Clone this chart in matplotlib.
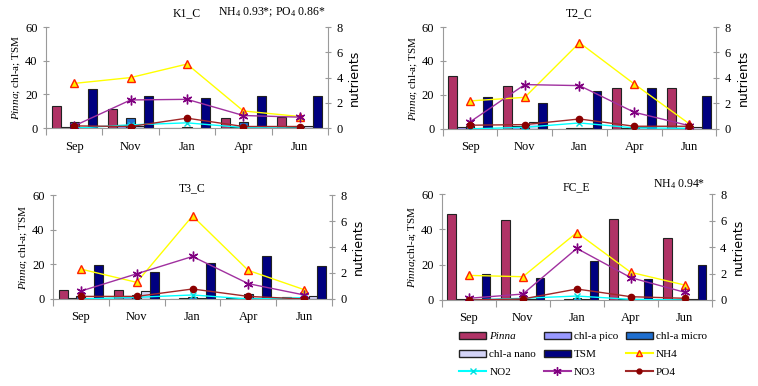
import matplotlib
matplotlib.use("Agg")
import matplotlib.pyplot as plt
from matplotlib.patches import Patch
from matplotlib.lines import Line2D
import numpy as np

plt.rcParams['font.family'] = ['Liberation Serif', 'DejaVu Serif']
plt.rcParams['mathtext.fontset'] = 'custom'
plt.rcParams['mathtext.rm'] = 'Liberation Serif'
plt.rcParams['mathtext.it'] = 'Liberation Serif:italic'

months = ['Sep', 'Nov', 'Jan', 'Apr', 'Jun']
sites = ['K1_C', 'T2_C', 'T3_C', 'FC_E']
notes = [r'NH$_4$ 0.93*; PO$_4$ 0.86*', '', '', r'NH$_4$ 0.94*']

# bars (left axis)
pinna = [[13.4, 11.4, 0.0, 6.3, 6.5],
         [31.0, 25.1, 0.0, 24.1, 24.1],
         [5.0, 5.0, 0.0, 0.5, 1.1],
         [48.7, 45.3, 0.0, 46.2, 35.3]]
pico = [[0.5, 2.0, 0.3, 0.5, 0.5],
        [1.0, 1.5, 0.3, 0.8, 0.8],
        [0.5, 1.0, 0.3, 0.5, 0.8],
        [0.3, 0.3, 0.3, 0.3, 0.3]]
micro = [[3.7, 6.0, 0.8, 3.7, 1.4],
         [1.5, 2.0, 0.8, 1.0, 2.0],
         [1.9, 2.5, 1.0, 3.1, 1.0],
         [0.5, 0.8, 1.0, 0.5, 0.8]]
nano = [[0.5, 1.0, 0.3, 0.5, 1.0],
        [0.5, 4.0, 0.3, 1.0, 1.0],
        [0.5, 4.6, 0.3, 0.5, 1.5],
        [0.3, 0.3, 0.3, 0.3, 0.3]]
tsm = [[23.0, 19.3, 18.0, 19.3, 19.3],
       [18.8, 15.3, 22.2, 24.0, 19.6],
       [19.7, 15.7, 20.7, 24.9, 19.0],
       [14.5, 12.3, 22.0, 11.9, 19.8]]

# lines (right axis)
nh4 = [[3.54, 4.0, 5.07, 1.36, 0.92],
       [2.2, 2.48, 6.77, 3.53, 0.42],
       [2.3, 1.28, 6.39, 2.2, 0.72],
       [1.86, 1.76, 5.1, 2.09, 1.13]]
no2 = [[0.0, 0.26, 0.42, 0.05, 0.0],
       [0.0, 0.13, 0.47, 0.08, 0.05],
       [0.0, 0.13, 0.31, 0.0, 0.1],
       [0.0, 0.13, 0.3, 0.05, 0.0]]
no3 = [[0.18, 2.23, 2.28, 1.0, 0.87],
       [0.55, 3.48, 3.4, 1.31, 0.26],
       [0.61, 1.94, 3.27, 1.18, 0.31],
       [0.13, 0.45, 3.9, 1.69, 0.58]]
po4 = [[0.18, 0.13, 0.79, 0.13, 0.13],
       [0.29, 0.34, 0.78, 0.21, 0.21],
       [0.2, 0.2, 0.77, 0.2, 0.0],
       [0.0, 0.08, 0.83, 0.25, 0.13]]

bar_colors = ['#b03366', '#9999ff', '#1f6fd0', '#d4d4f7', '#000080']
bar_names = ['Pinna', 'chl-a pico', 'chl-a micro', 'chl-a nano', 'TSM']
line_styles = {
    'NH4': dict(color='#ffff00', marker='^', mfc='#ffee00', mec='#ff2000', ms=5.5),
    'NO2': dict(color='#00ffff', marker='x', mfc='#00e0e0', mec='#00e0e0', ms=5),
    'NO3': dict(color='#a0309f', marker=(6, 2, 0), mfc='#800080', mec='#800080', ms=7),
    'PO4': dict(color='#a02828', marker='o', mfc='#8b0000', mec='#8b0000', ms=4.5),
}

fig = plt.figure(figsize=(7.58, 3.86), dpi=100)
positions = [[0.0607, 0.668, 0.372, 0.262],
             [0.584, 0.666, 0.361, 0.264],
             [0.070, 0.2254, 0.368, 0.2694],
             [0.583, 0.2228, 0.356, 0.2742]]
ylabels = [r'$\it{Pinna}$; chl-a; TSM'] * 3 + [r'$\it{Pinna}$;chl-a; TSM']
title_pad = [8, 8, 3, 3]

x = np.arange(len(months))
w = 0.16
grey = '#9a9a9a'

for i in range(4):
    ax = fig.add_axes(positions[i])
    series = [pinna[i], pico[i], micro[i], nano[i], tsm[i]]
    for k, vals in enumerate(series):
        ax.bar(x + (k - 2) * w, vals, w, color=bar_colors[k],
               edgecolor='#222222', linewidth=0.8, zorder=2)
    ax.set_xlim(-0.5, 4.5)
    ax.set_ylim(0, 60)
    ax.set_yticks([0, 20, 40, 60])
    ax.set_xticks(np.arange(-0.5, 5, 1))
    ax.set_xticklabels([])
    ax.set_xticks(x, minor=True)
    ax.set_xticklabels(months, minor=True, fontsize=9)
    ax.tick_params(axis='x', which='minor', length=0, pad=9)
    ax.tick_params(axis='x', which='major', length=5, color=grey)
    ax.tick_params(axis='y', length=5, direction='inout', color=grey, labelsize=9)
    for s in ['top', 'right']:
        ax.spines[s].set_visible(False)
    for s in ['left', 'bottom']:
        ax.spines[s].set_color(grey)
    ax.set_ylabel(ylabels[i], fontsize=8, labelpad=2)
    ax.set_title(sites[i], fontsize=8.5, pad=title_pad[i])
    if notes[i]:
        ax.text(0.99 if i == 0 else 0.975, 1.0 + title_pad[i] / 100.0, notes[i],
                transform=ax.transAxes, ha='right', va='bottom', fontsize=8.5)

    ax2 = ax.twinx()
    for name, vals in zip(['NH4', 'NO2', 'NO3', 'PO4'], [nh4[i], no2[i], no3[i], po4[i]]):
        st = line_styles[name]
        ax2.plot(x, vals, color=st['color'], lw=1, marker=st['marker'],
                 mfc=st['mfc'], mec=st['mec'], ms=st['ms'], mew=1)
    ax2.set_ylim(0, 8)
    ax2.set_yticks([0, 2, 4, 6, 8])
    ax2.tick_params(axis='y', length=5, direction='inout', color=grey, labelsize=9)
    for s in ['top', 'left', 'bottom']:
        ax2.spines[s].set_visible(False)
    ax2.spines['right'].set_color(grey)
    ax2.set_ylabel('nutrients', fontsize=9, family='DejaVu Sans', labelpad=4)

handles = []
for k in range(5):
    handles.append(Patch(facecolor=bar_colors[k], edgecolor='#222222', label=bar_names[k]))
for name in ['NH4', 'NO2', 'NO3', 'PO4']:
    st = line_styles[name]
    handles.append(Line2D([], [], color=st['color'], marker=st['marker'], mfc=st['mfc'],
                          mec=st['mec'], ms=st['ms'] - 1, lw=1.5, label=name))
# row-major order -> column-major for matplotlib
order = [0, 3, 6, 1, 4, 7, 2, 5, 8]
hs = [handles[j] for j in order]
leg = fig.legend(handles=hs, loc='upper left', bbox_to_anchor=(0.606, 0.14), ncol=3,
                 frameon=False, fontsize=8, handlelength=2.4, handleheight=0.6,
                 columnspacing=0.7, labelspacing=0.75, handletextpad=0.3,
                 borderpad=0, borderaxespad=0)
for t in leg.get_texts():
    if t.get_text() == 'Pinna':
        t.set_style('italic')

fig.savefig('out.png', dpi=100)
